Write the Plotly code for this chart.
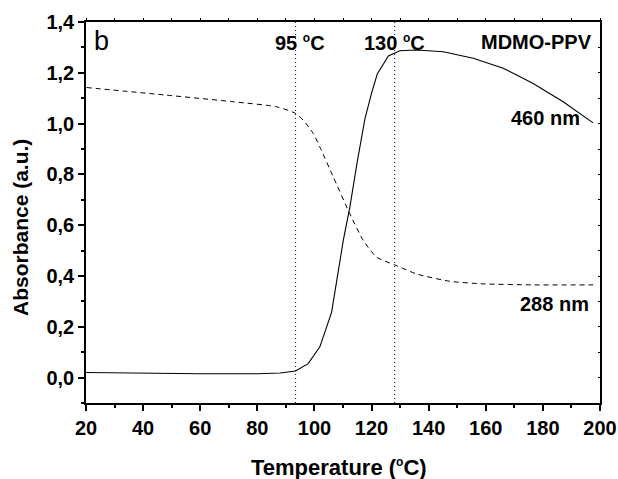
import plotly.graph_objects as go

# 460 nm (solid)
t460 = [20, 40, 60, 80, 88, 93.4, 97.8, 101.9, 106, 110.1, 112.4, 115, 117.7, 120, 122, 125.9, 129.9, 135.8, 145.1, 155.6, 166.1, 176.6, 187.1, 197.6]
a460 = [0.020, 0.017, 0.015, 0.015, 0.018, 0.026, 0.055, 0.121, 0.257, 0.54, 0.671, 0.85, 1.02, 1.12, 1.195, 1.266, 1.287, 1.290, 1.283, 1.257, 1.218, 1.158, 1.086, 1.003]

# 288 nm (dashed)
t288 = [20.2, 48.2, 71.6, 86.8, 93.4, 96.1, 99.6, 101.9, 106.6, 112.4, 117.1, 121.8, 128.1, 135.8, 147.5, 159.1, 176.6, 197.6]
a288 = [1.142, 1.112, 1.086, 1.066, 1.040, 1.013, 0.961, 0.908, 0.790, 0.645, 0.54, 0.474, 0.444, 0.408, 0.379, 0.369, 0.365, 0.365]

vlines = [93.4, 128.1]

DEG = "<sup><span style='font-size:12px'>o</span></sup>"
labels = [
    ("b", 25.3, 1.325, 27, "normal"),
    ("95 " + DEG + "C", 94.8, 1.321, 20, "bold"),
    ("130 " + DEG + "C", 127.9, 1.321, 20, "bold"),
    ("MDMO-PPV", 177.9, 1.321, 20, "bold"),
    ("460 nm", 181.0, 1.021, 20, "bold"),
    ("288 nm", 184.2, 0.291, 20, "bold"),
]

FONT = "Liberation Sans, Arial, sans-serif"

fig = go.Figure()
for xv in vlines:
    fig.add_trace(go.Scatter(x=[xv, xv], y=[-0.1, 1.4], mode="lines",
                             line=dict(color="black", width=1, dash="1px,3px"),
                             showlegend=False, hoverinfo="skip"))
fig.add_trace(go.Scatter(x=t288, y=a288, mode="lines",
                         line=dict(color="black", width=1, dash="5px,4px", shape="spline", smoothing=0.6),
                         showlegend=False))
fig.add_trace(go.Scatter(x=t460, y=a460, mode="lines",
                         line=dict(color="black", width=1.1),
                         showlegend=False))
fig.add_trace(go.Scatter(x=[20], y=[0], xaxis="x2", yaxis="y2", mode="markers",
                         marker=dict(opacity=0), showlegend=False, hoverinfo="skip"))

for txt, xv, yv, sz, wt in labels:
    fig.add_annotation(x=xv, y=yv, text=txt, showarrow=False, xref="x", yref="y",
                       font=dict(family=FONT, size=sz, color="black", weight=wt),
                       xanchor="center", yanchor="middle")

fig.add_annotation(x=(339 - 86) / 514, y=(403 - 467) / 381, xref="paper", yref="paper",
                   text="Temperature (" + DEG + "C)", showarrow=False,
                   font=dict(family=FONT, size=22, color="black", weight="bold"),
                   xanchor="center", yanchor="middle")
fig.add_annotation(x=(20 - 86) / 514, y=(403 - 228) / 381, xref="paper", yref="paper",
                   text="Absorbance (a.u.)", showarrow=False, textangle=-90,
                   font=dict(family=FONT, size=21, color="black", weight="bold"),
                   xanchor="center", yanchor="middle")

tickfont = dict(family=FONT, size=20, color="black", weight="bold")
fig.update_layout(
    width=618, height=479,
    margin=dict(l=86, r=18, t=22, b=76, autoexpand=False),
    paper_bgcolor="white", plot_bgcolor="white",
    separators=", ",
    showlegend=False,
    xaxis=dict(range=[20, 200], dtick=20, tick0=20, showgrid=False, zeroline=False, automargin=False,
               showline=True, linecolor="black", linewidth=1.5,
               ticks="outside", ticklen=6, tickwidth=1.5, tickcolor="black",
               tickfont=tickfont,
               minor=dict(dtick=10, ticks="outside", ticklen=3, tickwidth=1.5, tickcolor="black", showgrid=False)),
    yaxis=dict(range=[-0.1, 1.4], dtick=0.2, tick0=0, tickformat=".1f", showgrid=False, zeroline=False, automargin=False,
               showline=True, linecolor="black", linewidth=1.5,
               ticks="outside", ticklen=6, tickwidth=1.5, tickcolor="black",
               tickfont=tickfont,
               minor=dict(dtick=0.1, ticks="outside", ticklen=3, tickwidth=1.5, tickcolor="black", showgrid=False)),
    xaxis2=dict(range=[20, 200], overlaying="x", side="top", dtick=10, tick0=20, automargin=False,
                showline=True, linecolor="black", linewidth=1.5,
                ticks="outside", ticklen=2, tickwidth=1, tickcolor="black",
                showticklabels=False, showgrid=False, zeroline=False),
    yaxis2=dict(range=[-0.1, 1.4], overlaying="y", side="right", dtick=0.1, tick0=0, automargin=False,
                showline=True, linecolor="black", linewidth=1.5,
                ticks="inside", ticklen=2, tickwidth=1, tickcolor="black",
                showticklabels=False, showgrid=False, zeroline=False),
)

fig.write_html("out.html")
